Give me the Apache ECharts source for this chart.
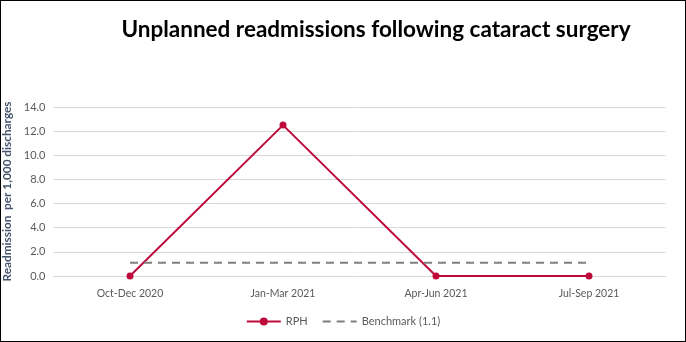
<!DOCTYPE html>
<html><head><meta charset="utf-8">
<script src="https://cdn.jsdelivr.net/npm/echarts@6/dist/echarts.min.js"></script>
<style>html,body{margin:0;padding:0;background:#fff}#c{width:686px;height:342px;box-sizing:border-box;border:1px solid #000}</style>
</head><body><div id="c"></div>
<script>
var categories = ["Oct-Dec 2020", "Jan-Mar 2021", "Apr-Jun 2021", "Jul-Sep 2021"];
var rphValues = [0, 12.5, 0, 0];
var benchmarkValues = [1.1, 1.1, 1.1, 1.1];
var chart = echarts.init(document.getElementById('c'));
var font = 'Lato, "Open Sans", sans-serif';
chart.setOption({
  animation: false,
  title: {text: 'Unplanned readmissions following cataract surgery', left: 370, textAlign: 'center', top: 12,
    textStyle: {fontFamily: font, fontSize: 22.5, fontWeight: 'bold', color: '#000'}},
  grid: {left: 52.5, right: 19.5, top: 106, bottom: 65, containLabel: false, outerBoundsMode: 'none'},
  legend: {bottom: 9, left: 'center', itemWidth: 34, itemHeight: 10, itemGap: 14,
    textStyle: {fontFamily: font, fontSize: 11, color: '#595959'},
    data: [{name: 'RPH'}, {name: 'Benchmark (1.1)', itemStyle: {opacity: 0}}]},
  xAxis: {type: 'category', data: categories, boundaryGap: true,
    axisLine: {lineStyle: {color: '#d9d9d9'}}, axisTick: {show: false},
    axisLabel: {fontFamily: font, fontSize: 10.5, color: '#595959', margin: 12}},
  yAxis: {type: 'value', min: 0, max: 14, interval: 2,
    name: 'Readmission  per 1,000 discharges', nameLocation: 'middle', nameGap: 30,
    nameTextStyle: {fontFamily: font, fontSize: 11.8, fontWeight: 'bold', color: '#44546A'},
    axisLabel: {fontFamily: font, fontSize: 11, color: '#595959', formatter: function(v){return v.toFixed(1);}},
    splitLine: {lineStyle: {color: '#d9d9d9'}}},
  series: [
    {name: 'RPH', type: 'line', data: rphValues, symbol: 'circle', symbolSize: 7,
     lineStyle: {color: '#BE0A3A', width: 2}, itemStyle: {color: '#BE0A3A'}},
    {name: 'Benchmark (1.1)', type: 'line', data: benchmarkValues, symbol: 'none',
     lineStyle: {color: '#7f7f7f', width: 2, type: [8, 6]}, itemStyle: {color: '#7f7f7f'}}
  ]
});
</script></body></html>
